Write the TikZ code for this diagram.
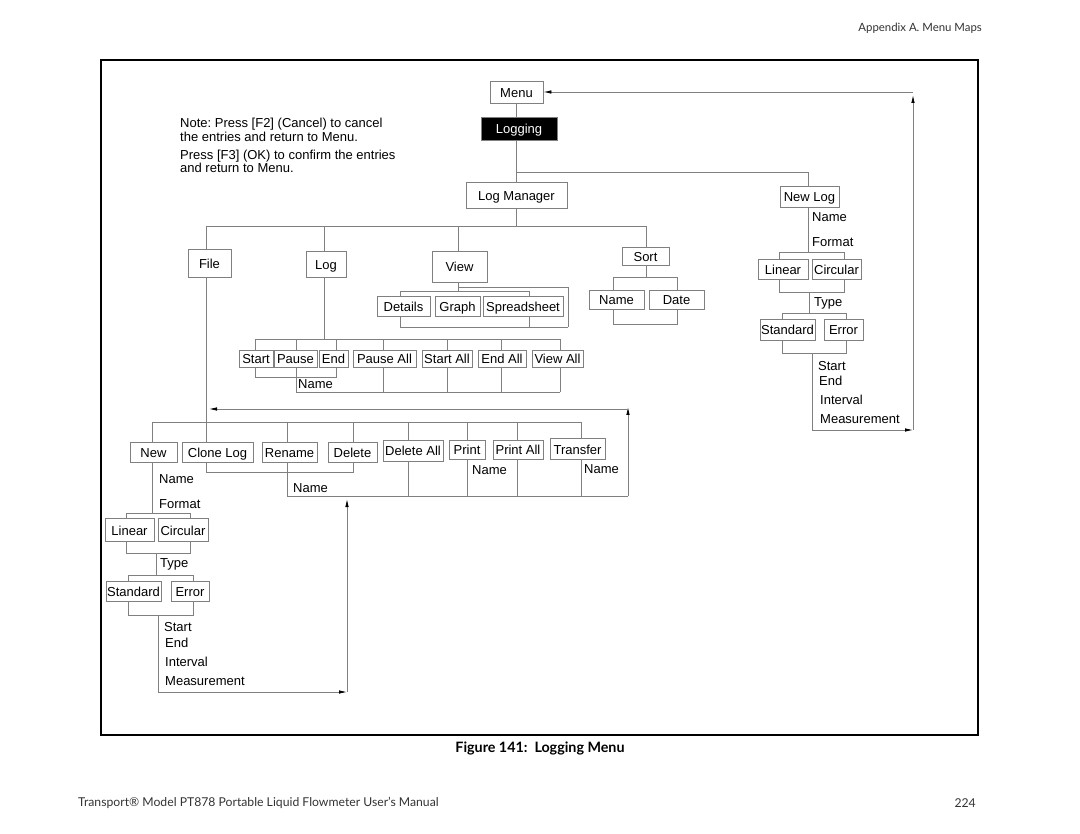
\documentclass[tikz,border=0pt]{standalone}
\usepackage{fontspec}
\setmainfont{Liberation Sans}
\newfontfamily\gefont{Lato}
\usetikzlibrary{arrows.meta}
\definecolor{lc}{gray}{0.5}
\definecolor{gtext}{gray}{0.2}
\tikzset{
  ln/.style={draw=lc, line width=0.8pt},
  bx/.style={draw=lc, fill=white, line width=0.8pt, inner sep=0pt, text height=11pt, text depth=0pt, font=\fontsize{13}{15}\selectfont},
  tx/.style={inner sep=0pt, anchor=west, font=\fontsize{13}{15}\selectfont},
  arr/.style={draw=lc, line width=0.8pt, -{Latex[length=8pt,width=3.5pt,black]}},
}
\newcommand\bxn[6]{\node[bx,minimum width=#4pt,minimum height=#5pt] (#1) at (#2,#3) {#6};}
\begin{document}
\frenchspacing
\begin{tikzpicture}[x=1pt,y=-1pt]
\useasboundingbox (0,0) rectangle (1080,834);
% frame
\draw[line width=2pt] (101,60) rectangle (978,735);
% header, caption, footer
\node[anchor=east, inner sep=0pt, text=gtext, font=\gefont\fontsize{11.4}{13}\selectfont] (hdr) at (982,28) {Appendix A. Menu Maps};
\node[inner sep=0pt, font=\gefont\bfseries\fontsize{14.3}{16}\selectfont] (cap) at (540,748) {Figure 141:\ \ Logging Menu};
\node[anchor=west, inner sep=0pt, text=gtext, font=\gefont\fontsize{12.2}{14}\selectfont] (foot) at (78,803) {Transport® Model PT878 Portable Liquid Flowmeter User’s Manual};
\node[anchor=east, inner sep=0pt, text=gtext, font=\gefont\fontsize{12.2}{14}\selectfont] (page) at (976,803) {224};
% notes
\node[tx] (n1) at (180,124) {Note: Press [F2] (Cancel) to cancel};
\node[tx] (n2) at (180,137) {the entries and return to Menu.};
\node[tx] (n3) at (180,156) {Press [F3] (OK) to confirm the entries};
\node[tx] (n4) at (180,168) {and return to Menu.};

% ---------- lines ----------
\draw[ln] (516.5,103) -- (516.5,182);
\draw[ln] (516.5,172) -- (808,172) -- (808,186);
\draw[ln] (516.5,208) -- (516.5,226);
\draw[ln] (206,226) -- (646,226);
\draw[ln] (206,226) -- (206,249);
\draw[ln] (324,226) -- (324,251);
\draw[ln] (458,226) -- (458,251);
\draw[ln] (646,226) -- (646,247);
% view subtree
\draw[ln] (458,282) -- (458,291);
\draw[ln] (458,287) -- (568,287) -- (568,327);
\draw[ln] (400,291) -- (529,291);
\draw[ln] (400,291) -- (400,327) -- (568,327);
\draw[ln] (529,291) -- (529,327);
% sort subtree
\draw[ln] (646,265) -- (646,277);
\draw[ln] (613,277) -- (677,277) -- (677,324) -- (613,324) -- cycle;
% new log subtree
\draw[ln] (808,207) -- (808,252);
\draw[ln] (779,252) -- (844,252) -- (844,292) -- (779,292) -- cycle;
\draw[ln] (809,292) -- (809,313);
\draw[ln] (782,313) -- (846,313) -- (846,353) -- (782,353) -- cycle;
\draw[ln] (812,353) -- (812,430);
\coordinate (r1) at (913,430);
\coordinate (r2) at (913,92);
\draw[arr] (812,430) -- (r1);
\draw[arr] (r1) -- (913,95);
% log subtree
\draw[ln] (324,277) -- (324,339);
\draw[ln] (255,339) -- (560,339);
\foreach \x in {255,296,336,383,447,501,560} \draw[ln] (\x,339) -- (\x,350);
\draw[ln] (255,367) -- (255,377) -- (336,377) -- (336,367);
\draw[ln] (296,367) -- (296,392) -- (560,392);
\foreach \x in {383,447,501,560} \draw[ln] (\x,367) -- (\x,392);
% file subtree
\draw[ln] (206,277) -- (206,472);
\draw[ln] (152,422) -- (581,422);
\foreach \x in {152,287,353,408,467,517,581} \draw[ln] (\x,422) -- (\x,442);
\draw[ln] (206,472) -- (353,472) -- (353,460);
\draw[ln] (287,460) -- (287,496) -- (628,496);
\foreach \x in {408,467,517,581} \draw[ln] (\x,458) -- (\x,496);
\coordinate (f1) at (628,496);
\coordinate (f2) at (628,409);
\draw[arr] (f1) -- (628,407);
\draw[arr] (f2) -- (209,409);
% new subtree
\draw[ln] (152,460) -- (152,513);
\draw[ln] (126,513) -- (190,513) -- (190,553) -- (126,553) -- cycle;
\draw[ln] (156,553) -- (156,575);
\draw[ln] (128,575) -- (193,575) -- (193,615) -- (128,615) -- cycle;
\draw[ln] (158,615) -- (158,692);
\coordinate (b1) at (347,692);
\draw[arr] (158,692) -- (b1);
\draw[arr] (b1) -- (347,499);

% ---------- boxes ----------
\bxn{menu}{516.5}{92}{53}{22}{Menu}
\draw[arr] (r2) -- (menu.east);
\node[bx, fill=black, text=white, minimum width=76pt, minimum height=23pt] (logging) at (519,128.5) {Logging};
\bxn{lm}{516.5}{195}{101}{26}{Log Manager}
\bxn{newlog}{809.5}{196.5}{59}{21}{New Log}
\bxn{file}{209.5}{263}{43}{28}{File}
\bxn{log}{326}{264}{40}{26}{Log}
\bxn{view}{459.5}{266.5}{55}{31}{View}
\bxn{details}{403.5}{306}{53}{20}{Details}
\bxn{graph}{457.5}{306}{45}{20}{Graph}
\bxn{spread}{523}{306}{80}{20}{Spreadsheet}
\bxn{sort}{645.5}{256}{47}{18}{Sort}
\bxn{sname}{616.5}{299.5}{55}{19}{Name}
\bxn{sdate}{676.5}{299.5}{55}{19}{Date}
\bxn{nlinear}{783}{269}{50}{20}{Linear}
\bxn{ncirc}{836.5}{269}{49}{20}{Circular}
\bxn{nstd}{787.5}{329.5}{55}{21}{Standard}
\bxn{nerr}{843.5}{329.5}{39}{21}{Error}
\bxn{lstart}{256}{358.5}{34}{17}{Start}
\bxn{lpause}{295.5}{358.5}{43}{17}{Pause}
\bxn{lend}{333.5}{358.5}{29}{17}{End}
\bxn{lpauseall}{384.5}{358.5}{63}{17}{Pause All}
\bxn{lstartall}{447}{358.5}{50}{17}{Start All}
\bxn{lendall}{502}{358.5}{48}{17}{End All}
\bxn{lviewall}{557.5}{358.5}{51}{17}{View All}
\bxn{fnew}{153.5}{452}{47}{20}{New}
\bxn{fclone}{217.5}{452}{71}{20}{Clone Log}
\bxn{frename}{289.5}{452}{55}{20}{Rename}
\bxn{fdelete}{352.5}{452}{49}{20}{Delete}
\bxn{fdelall}{413}{450.5}{60}{21}{Delete All}
\bxn{fprint}{467}{449.5}{36}{19}{Print}
\bxn{fprintall}{518}{449.5}{50}{19}{Print All}
\bxn{ftransfer}{577.5}{448.5}{55}{21}{Transfer}
\bxn{flinear}{129.5}{529.5}{49}{23}{Linear}
\bxn{fcirc}{183}{529.5}{50}{23}{Circular}
\bxn{fstd}{133.5}{591}{55}{20}{Standard}
\bxn{ferr}{190}{591}{38}{20}{Error}

% ---------- plain texts ----------
\node[tx] (nlname) at (812,217) {Name};
\node[tx] (nlformat) at (812,242) {Format};
\node[tx] (nltype) at (814,303) {Type};
\node[tx] (nlstart) at (818,366) {Start};
\node[tx] (nlend) at (819,381) {End};
\node[tx] (nlint) at (820,400) {Interval};
\node[tx] (nlmeas) at (820,419) {Measurement};
\node[tx] (lname) at (298,384) {Name};
\node[tx] (fname) at (159,479) {Name};
\node[tx] (fformat) at (159,504) {Format};
\node[tx] (ftype) at (160,564) {Type};
\node[tx] (fstart) at (164,627) {Start};
\node[tx] (fend) at (165,643) {End};
\node[tx] (fint) at (165,662) {Interval};
\node[tx] (fmeas) at (165,681) {Measurement};
\node[tx] (rname) at (293,488) {Name};
\node[tx] (pname) at (472,470) {Name};
\node[tx] (tname) at (584,469) {Name};
\end{tikzpicture}
\end{document}
